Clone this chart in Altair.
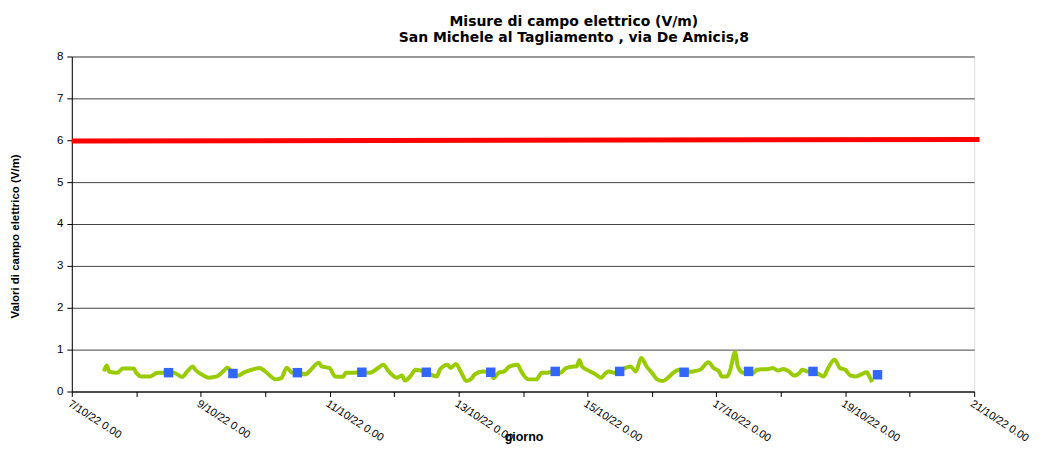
import altair as alt
import pandas as pd

START = "2022-10-07T00:00:00"

# green series: hours after START, field value (V/m)
line_hours = [12, 13, 14, 17, 19, 21, 23, 24, 26, 29, 32, 34, 36, 38, 41, 43, 45, 46, 49, 51,
              54, 56, 58, 60, 62, 64, 67, 70, 72, 76, 78, 80, 82, 84, 87, 89, 92, 93, 96, 98,
              101, 102, 104, 108, 111, 114, 116, 118, 121, 123, 124, 126, 128, 132, 136, 137,
              140, 141, 143, 145, 147, 149, 150, 153, 156, 157, 159, 161, 163, 166, 167, 170,
              173, 175, 177, 180, 182, 184, 187, 188, 189, 190, 193, 195, 197, 199, 200, 202,
              204, 206, 208, 210, 212, 214, 216, 218, 220, 222, 224, 226, 228, 231, 234, 237,
              239, 241, 242, 244, 245, 247, 248, 250, 252, 254, 255, 257, 259, 261, 263, 265,
              267, 269, 271, 272, 274, 276, 280, 281, 284, 286, 288, 290, 292, 294, 296, 297, 298]
line_values = [0.48, 0.62, 0.47, 0.45, 0.55, 0.55, 0.55, 0.45, 0.36, 0.36, 0.45, 0.45, 0.45, 0.45, 0.35, 0.48, 0.60, 0.52, 0.38, 0.33,
               0.36, 0.46, 0.57, 0.43, 0.38, 0.45, 0.52, 0.56, 0.48, 0.29, 0.32, 0.57, 0.45, 0.45, 0.41, 0.52, 0.69, 0.60, 0.56, 0.36,
               0.35, 0.45, 0.45, 0.46, 0.45, 0.56, 0.64, 0.48, 0.33, 0.38, 0.26, 0.36, 0.52, 0.46, 0.36, 0.52,
               0.64, 0.56, 0.66, 0.45, 0.25, 0.32, 0.41, 0.48, 0.46, 0.32, 0.45, 0.48, 0.60, 0.64, 0.52, 0.29,
               0.29, 0.45, 0.45, 0.48, 0.45, 0.56, 0.60, 0.60, 0.75, 0.60, 0.48, 0.41, 0.33, 0.45, 0.48, 0.45,
               0.48, 0.56, 0.60, 0.48, 0.80, 0.60, 0.45, 0.29, 0.25, 0.33, 0.45, 0.52, 0.46, 0.48, 0.52, 0.70,
               0.56, 0.48, 0.36, 0.36, 0.48, 0.94, 0.60, 0.45, 0.48, 0.45, 0.52, 0.53, 0.53, 0.56, 0.50, 0.54,
               0.48, 0.38, 0.45, 0.52, 0.48, 0.48, 0.36, 0.48, 0.76, 0.56, 0.52, 0.38, 0.36, 0.41, 0.46, 0.36, 0.22]

# blue daily means (hours after START)
daily_hours = [36, 60, 84, 108, 132, 156, 180, 204, 228, 252, 276, 300]
daily_values = [0.45, 0.43, 0.45, 0.46, 0.46, 0.46, 0.48, 0.48, 0.46, 0.48, 0.48, 0.40]

# red limit line
limit_hours = [0, 338]
limit_values = [5.98, 6.02]

tick_days = list(range(7, 22))
y_ticks = list(range(0, 9))

t0 = pd.Timestamp(START)


def ts(hours):
    return [(t0 + pd.Timedelta(hours=h)).strftime("%Y-%m-%dT%H:%M:%S") for h in hours]


line_df = pd.DataFrame({"t": ts(line_hours), "v": line_values})
daily_df = pd.DataFrame({"t": ts(daily_hours), "v": daily_values})
limit_df = pd.DataFrame({"t": ts(limit_hours), "v": limit_values})

FONT = "Liberation Sans"

x_scale = alt.Scale(domain=[alt.DateTime(year=2022, month=10, date=7),
                            alt.DateTime(year=2022, month=10, date=21)])
y_scale = alt.Scale(domain=[0, 8], nice=False)

x_axis = alt.Axis(
    values=[alt.DateTime(year=2022, month=10, date=d) for d in tick_days],
    labelExpr="date(datum.value) % 2 == 1 ? timeFormat(datum.value, '%-d/%m/%y %-H.%M') : ''",
    labelAngle=33, labelAlign="left", labelBaseline="top", labelPadding=1,
    labelFont=FONT, labelFontSize=11, labelColor="black", labelOverlap=False,
    grid=False, tickSize=5, tickColor="black", domainColor="black",
    title="giorno", titleFont=FONT, titleFontSize=12.5, titleFontWeight="bold",
    titleColor="black", titleX=453, titleY=45, titleAlign="center", titleBaseline="middle",
)
y_axis = alt.Axis(
    values=y_ticks, grid=True, gridColor="#444444", gridWidth=1,
    tickSize=5, tickColor="black", domainColor="black",
    labelFont=FONT, labelFontSize=11.5, labelColor="black", labelPadding=4,
    title="Valori di campo elettrico (V/m)", titleFont=FONT, titleFontSize=11.5,
    titleFontWeight="bold", titleColor="black", titleAngle=270,
    titleX=-56, titleY=180, titleAlign="center", titleBaseline="middle",
)

X = alt.X("t:T", scale=x_scale, axis=x_axis)
Y = alt.Y("v:Q", scale=y_scale, axis=y_axis)

limit = alt.Chart(limit_df).mark_line(color="#FF0000", strokeWidth=5, clip=False).encode(x=X, y=Y)
line = alt.Chart(line_df).mark_line(color="#99CC00", strokeWidth=4, interpolate="monotone").encode(
    x=alt.X("t:T"), y=alt.Y("v:Q"))
squares = alt.Chart(daily_df).mark_square(color="#3366FF", size=90, opacity=1).encode(
    x=alt.X("t:T"), y=alt.Y("v:Q"))

chart = alt.layer(limit, line, squares).properties(
    width=905, height=336,
    autosize=alt.AutoSizeParams(type="none"),
    padding={"left": 64, "top": 48, "right": 58, "bottom": 52},
    title=alt.TitleParams(
        text=["Misure di campo elettrico (V/m)", "San Michele al Tagliamento , via De Amicis,8"],
        font="DejaVu Sans", fontSize=14, fontWeight="bold", color="black",
        anchor="middle", dx=51, offset=6, lineHeight=16,
    ),
).configure_view(stroke="black", strokeWidth=1).configure(background="white")

chart.save("out.html", embed_options={"renderer": "svg", "actions": False})
